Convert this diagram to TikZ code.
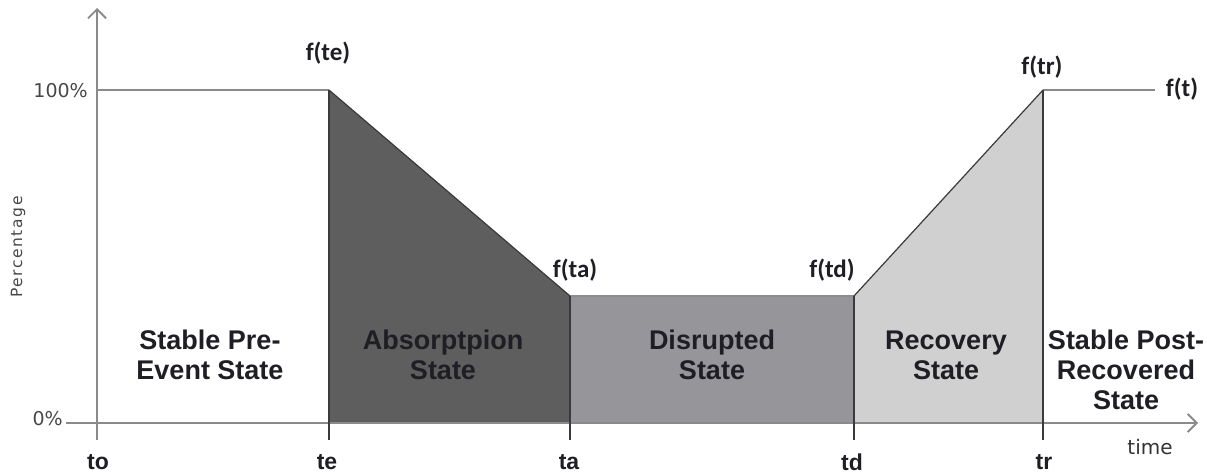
\documentclass[tikz,border=0pt]{standalone}
\usepackage{fontspec}
\setmainfont{Liberation Sans}
\newfontfamily\dvs{DejaVu Sans}
\newfontfamily\dvsls{DejaVu Sans}[LetterSpace=10]
\newfontfamily\carl{Carlito}
\usetikzlibrary{arrows.meta}
\definecolor{axisgray}{HTML}{8A8A8A}
\definecolor{edgegray}{HTML}{3A3A3A}
\definecolor{absfill}{HTML}{5E5E5E}
\definecolor{disfill}{HTML}{96959A}
\definecolor{recfill}{HTML}{D0D0D0}
\definecolor{txt}{HTML}{1E1E24}
\tikzset{
  axisline/.style={draw=axisgray, line width=1.8pt},
  edge/.style={draw=edgegray, line width=1.2pt},
  statelbl/.style={font=\bfseries\fontsize{27}{30}\selectfont, text=txt, align=center, inner sep=0pt},
  ticklbl/.style={font=\bfseries\fontsize{23}{26}\selectfont, text=txt, inner sep=0pt},
  flbl/.style={font=\carl\bfseries\fontsize{25}{29}\selectfont, text=txt, inner sep=0pt},
  pctlbl/.style={font=\dvs\fontsize{19}{22}\selectfont, text=black!72, inner sep=0pt},
}
\begin{document}
\begin{tikzpicture}[x=1pt,y=-1pt]
\useasboundingbox (0,0) rectangle (1207,474);
% key points
\coordinate (ytop) at (97,8);
\coordinate (ybot) at (97,440);
\coordinate (xl) at (66,423);
\coordinate (xr) at (1198,423);
\coordinate (h0) at (97,90);
\coordinate (E) at (329,90);
\coordinate (Eb) at (329,423);
\coordinate (Et) at (329,440);
\coordinate (A) at (570,296);
\coordinate (Ab) at (570,423);
\coordinate (At) at (570,440);
\coordinate (D) at (854,296);
\coordinate (Db) at (854,423);
\coordinate (Dt) at (854,440);
\coordinate (R) at (1043,90);
\coordinate (Rb) at (1043,423);
\coordinate (Rt) at (1043,440);
\coordinate (F) at (1155,90);
% regions
\fill[absfill] (E) -- (A) -- (Ab) -- (Eb) -- cycle;
\fill[disfill] (A) -- (D) -- (Db) -- (Ab) -- cycle;
\fill[recfill] (D) -- (R) -- (Rb) -- (Db) -- cycle;
% curve lines
\draw[axisline, line width=1.4pt] (h0) -- (E);
\draw[axisline, line width=1.4pt] (R) -- (F);
\draw[edge] (E) -- (A);
\draw[edge, draw=black!45] (A) -- (D);
\draw[edge] (D) -- (R);
% axes
\draw[axisline, -{Straight Barb[length=9pt,width=18pt]}] (ybot) -- (ytop);
\draw[axisline, -{Straight Barb[length=9pt,width=18pt]}] (xl) -- (xr);
% verticals
\draw[edge] (E) -- (Et);
\draw[edge] (A) -- (At);
\draw[edge] (D) -- (Dt);
\draw[edge] (R) -- (Rt);
% axis labels
\node[pctlbl, anchor=east] (p100) at (88,91) {100\%};
\node[pctlbl, anchor=east] (p0) at (63,419) {0\%};
\node[font=\dvsls\fontsize{15.5}{18}\selectfont, text=black!72, rotate=90, inner sep=0pt] (ylab) at (18,247) {Percentage};
\node[font=\dvs\fontsize{20}{24}\selectfont, text=black!80, inner sep=0pt] (xlab) at (1150,447) {time};
% tick labels
\node[ticklbl] (t0) at (98,462) {to};
\node[ticklbl] (te) at (327,462) {te};
\node[ticklbl] (ta) at (569,462) {ta};
\node[ticklbl] (td) at (852,462) {td};
\node[ticklbl] (tr) at (1044,462) {tr};
% function labels
\node[flbl] (fte) at (328,53) {f(te)};
\node[flbl] (fta) at (575,270) {f(ta)};
\node[flbl] (ftd) at (832,270) {f(td)};
\node[flbl] (ftr) at (1042,67) {f(tr)};
\node[flbl] (ft) at (1182,89) {f(t)};
% state labels
\node[statelbl] (s1) at (210,355) {Stable Pre-\\Event State};
\node[statelbl] (s2) at (443,355) {Absorptpion\\State};
\node[statelbl] (s3) at (712,355) {Disrupted\\State};
\node[statelbl] (s4) at (946,355) {Recovery\\State};
\node[statelbl] (s5) at (1126,370) {Stable Post-\\Recovered\\State};
\end{tikzpicture}
\end{document}
